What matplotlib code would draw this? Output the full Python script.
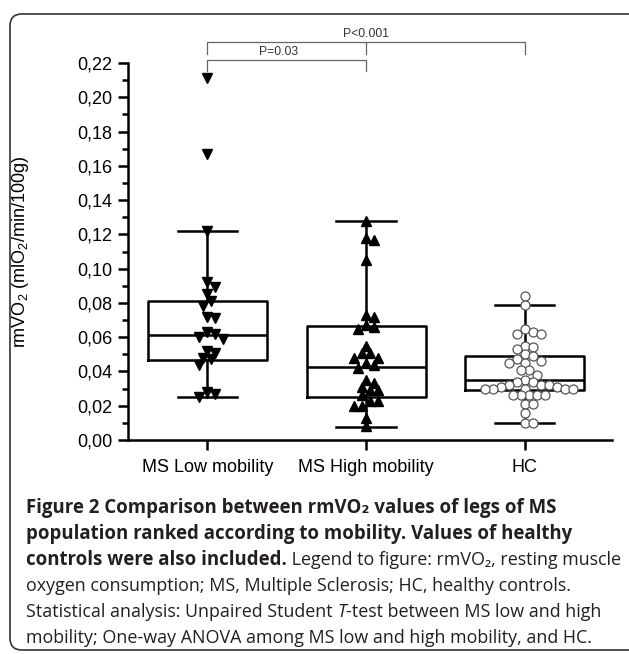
import numpy as np
import matplotlib
matplotlib.use('Agg')
import matplotlib.pyplot as plt
from matplotlib.patches import FancyBboxPatch

plt.rcParams['font.family'] = ['Liberation Sans', 'DejaVu Sans']
plt.rcParams['mathtext.fontset'] = 'custom'
plt.rcParams['mathtext.rm'] = 'Liberation Sans'

categories = ['MS Low mobility', 'MS High mobility', 'HC']

low_mob = [0.211, 0.167, 0.122, 0.092, 0.089, 0.085, 0.081, 0.078, 0.072, 0.071,
           0.063, 0.062, 0.060, 0.059, 0.052, 0.051, 0.048, 0.047, 0.044,
           0.028, 0.027, 0.025]
high_mob = [0.128, 0.118, 0.117, 0.105, 0.073, 0.072, 0.067, 0.066, 0.065, 0.055,
            0.051, 0.051, 0.048, 0.048, 0.045, 0.044, 0.042, 0.035, 0.033, 0.031,
            0.029, 0.029, 0.026, 0.023, 0.023, 0.020, 0.020, 0.013, 0.008]
hc = [0.084, 0.079, 0.065, 0.063, 0.062, 0.062, 0.055, 0.054, 0.053, 0.050,
      0.049, 0.047, 0.046, 0.045, 0.045, 0.041, 0.041, 0.038, 0.035, 0.034,
      0.034, 0.032, 0.032, 0.032, 0.031, 0.031, 0.030, 0.030, 0.030, 0.030,
      0.030, 0.026, 0.026, 0.026, 0.026, 0.026, 0.021, 0.021, 0.016, 0.010, 0.010]

# box stats
whislo = [0.0253, 0.0078, 0.0099]
q1 = [0.0466, 0.0253, 0.0292]
med = [0.0610, 0.0427, 0.0350]
q3 = [0.0810, 0.0665, 0.0490]
whishi = [0.1220, 0.1280, 0.0790]

p_labels = ['P<0.001', 'P=0.03']


def swarm_offsets(vals, ypp, xpp, d=7.6, step=4.0):
    vals = np.asarray(vals)
    order = np.argsort(-vals)
    placed = []
    offs = np.zeros(len(vals))
    for i in order:
        y = vals[i] * ypp
        k = 0
        while True:
            cands = [0.0] if k == 0 else [k * step, -k * step]
            ok = None
            for c in cands:
                if all((c - px) ** 2 + (y - py) ** 2 >= d * d for px, py in placed):
                    ok = c
                    break
            if ok is not None:
                placed.append((ok, y))
                offs[i] = ok / xpp
                break
            k += 1
    return offs


fig = plt.figure(figsize=(6.29, 6.54), dpi=100)
ax = fig.add_axes([128 / 629, 214 / 654, 484 / 629, 377 / 654])

stats = []
for i in range(3):
    stats.append(dict(med=med[i], q1=q1[i], q3=q3[i], whislo=whislo[i],
                      whishi=whishi[i], fliers=[]))
ax.bxp(stats, positions=[0, 1, 2], widths=0.75, showfliers=False,
       boxprops=dict(color='black', linewidth=1.8),
       medianprops=dict(color='black', linewidth=1.8),
       whiskerprops=dict(color='black', linewidth=1.8),
       capprops=dict(color='black', linewidth=1.8), capwidths=0.375)

ax.set_xlim(-0.5, 2.55)
ax.set_ylim(0, 0.22)
ypp = 377 / 0.22
xpp = 484 / 3.05

for i, (vals, mk) in enumerate([(low_mob, 'v'), (high_mob, '^')]):
    off = swarm_offsets(vals, ypp, xpp)
    ax.plot(i + off, vals, linestyle='none', marker=mk, markersize=7.5,
            color='black', clip_on=False, zorder=3)
off = swarm_offsets(hc, ypp, xpp)
ax.plot(2 + off, hc, linestyle='none', marker='o', markersize=6.5,
        markerfacecolor='white', markeredgecolor='#555555', markeredgewidth=0.9,
        clip_on=False, zorder=3)

ax.spines['top'].set_visible(False)
ax.spines['right'].set_visible(False)
ax.spines['left'].set_linewidth(1.8)
ax.spines['bottom'].set_linewidth(1.8)

yt = np.arange(0, 0.2201, 0.02)
ax.set_yticks(yt)
ax.set_yticklabels([f'{v:.2f}'.replace('.', ',') for v in yt])
ax.set_yticks(np.arange(0.01, 0.22, 0.02), minor=True)
ax.tick_params(axis='y', which='major', length=7, width=1.8, labelsize=13, pad=4)
ax.tick_params(axis='y', which='minor', length=4, width=1.8)
ax.set_xticks([0, 1, 2])
ax.set_xticklabels(categories)
ax.tick_params(axis='x', which='major', length=7, width=1.8, labelsize=13, pad=7)
ax.set_ylabel('rmVO$_2$ (mlO$_2$/min/100g)', fontsize=13)
ax.yaxis.set_label_coords(-0.2, 0.5)

# significance brackets
gray = '#666666'
ax.plot([0, 0, 2, 2], [0.2255, 0.2322, 0.2322, 0.2255], color=gray, lw=0.9, clip_on=False)
ax.plot([1, 1], [0.2322, 0.2255], color=gray, lw=0.9, clip_on=False)
ax.plot([0, 0, 1, 1], [0.2153, 0.222, 0.222, 0.2153], color=gray, lw=0.9, clip_on=False)
ax.text(1, 0.2335, p_labels[0], ha='center', va='bottom', fontsize=8.8, color='#333333')
ax.text(0.45, 0.2232, p_labels[1], ha='center', va='bottom', fontsize=8.8, color='#333333')

# rounded frame
fig.patches.append(FancyBboxPatch((0.1, 0.04), 6.4, 6.36,
                                  boxstyle='round,pad=0,rounding_size=0.12',
                                  transform=fig.dpi_scale_trans, fill=False,
                                  edgecolor='#333333', linewidth=1.2))

# caption
cap_font = ['Open Sans', 'DejaVu Sans']
size_bold = 13.4
size_reg = 12.9
cc = '#231f20'
x0 = 26 / 629
lines_y = [508, 534, 560, 586, 612, 638]

caption = [
    [('Figure 2 Comparison between rmVO\u2082 values of legs of MS', 'bold', 'normal')],
    [('population ranked according to mobility. Values of healthy', 'bold', 'normal')],
    [('controls were also included.', 'bold', 'normal'),
     (' Legend to figure: rmVO\u2082, resting muscle', 'normal', 'normal')],
    [('oxygen consumption; MS, Multiple Sclerosis; HC, healthy controls.', 'normal', 'normal')],
    [('Statistical analysis: Unpaired Student ', 'normal', 'normal'),
     ('T', 'normal', 'italic'),
     ('-test between MS low and high', 'normal', 'normal')],
    [('mobility; One-way ANOVA among MS low and high mobility, and HC.', 'normal', 'normal')],
]

for parts, py in zip(caption, lines_y):
    txt, wt, st = parts[0]
    prev = fig.text(x0, 1 - py / 654, txt, color=cc, family=cap_font,
                    fontsize=size_bold if wt == 'bold' else size_reg,
                    fontweight=wt, style=st, va='center', ha='left')
    for txt, wt, st in parts[1:]:
        prev = plt.annotate(txt, xy=(1, 0.5), xycoords=prev, va='center', ha='left',
                            fontsize=size_bold if wt == 'bold' else size_reg,
                            family=cap_font, color=cc,
                            fontweight=wt, style=st, annotation_clip=False)

fig.savefig('out.png', dpi=100)
